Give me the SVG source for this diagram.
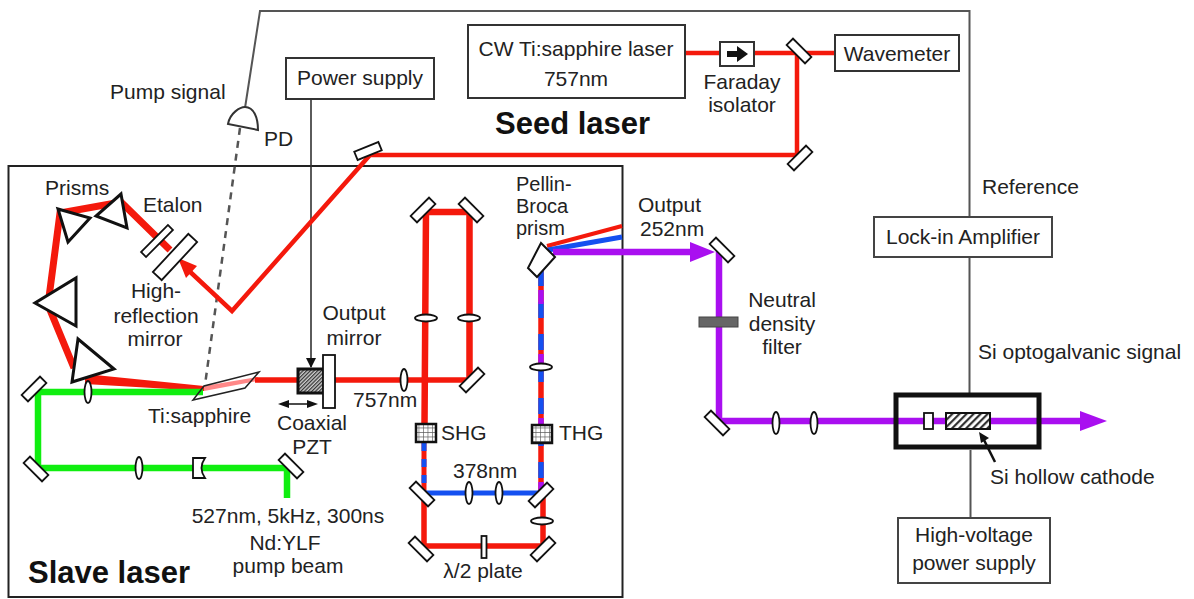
<svg xmlns="http://www.w3.org/2000/svg" width="1194" height="599" viewBox="0 0 1194 599">
<style>
text{font-family:"Liberation Sans",Arial,sans-serif;font-size:21px;fill:#222}
.m{text-anchor:middle}
.b{font-weight:bold;font-size:31px;fill:#111}
.s{font-size:20px}
.box{fill:#fff;stroke:#333;stroke-width:2}
.wire{fill:none;stroke:#333;stroke-width:1.6}
.wg{fill:none;stroke:#555;stroke-width:2}
.opt{fill:#fff;stroke:#111;stroke-width:1.800}
.tri{fill:#fff;stroke:#111;stroke-width:3;stroke-linejoin:miter}
.r{fill:none;stroke:#f4190c;stroke-linejoin:miter}
.g{fill:none;stroke:#10ee10;stroke-width:6.500}
.bl{fill:none;stroke:#1450f0;stroke-width:5}
.p{fill:none;stroke:#a90ff0;stroke-width:6.500}
</style>
<defs>
<rect id="mir" x="-13" y="-4.500" width="26" height="9" class="opt"/>
<ellipse id="lens" rx="3.500" ry="11" class="opt"/>
<ellipse id="lensh" rx="11" ry="3.500" class="opt"/>
<pattern id="hatch" width="5" height="5" patternUnits="userSpaceOnUse" patternTransform="rotate(-45)"><rect width="5" height="5" fill="#fff"/><rect width="5" height="2.200" fill="#333"/></pattern>
<pattern id="fine" width="2.600" height="2.600" patternUnits="userSpaceOnUse" patternTransform="rotate(-45)"><rect width="2.600" height="2.600" fill="#ccc"/><rect width="2.600" height="1.200" fill="#333"/></pattern>
<pattern id="grid" width="4.500" height="4.500" patternUnits="userSpaceOnUse"><rect width="4.500" height="4.500" fill="#fff"/><path d="M0 0H4.500M0 0V4.500" stroke="#555" stroke-width="1.200"/></pattern>
<marker id="ah" markerWidth="10" markerHeight="10" refX="9" refY="5" orient="auto" markerUnits="userSpaceOnUse"><path d="M0 0L10 5L0 10z" fill="#111"/></marker>
</defs>

<g id="slave-frame"><rect x="8.500" y="166" width="614" height="431" fill="#fff" stroke="#222" stroke-width="2"/></g>

<g id="connectors">
<path class="wg" d="M245 108L260 11H969.500V393"/>
<path class="wg" d="M970.500 450V518"/>
<path class="wire" d="M311 99V367" marker-end="url(#ah)"/>
<path d="M240 128L205 385" fill="none" stroke="#555" stroke-width="2.500" stroke-dasharray="7 6"/>
<path class="r" stroke-width="4.500" d="M686 53H835"/>
<path class="r" stroke-width="4.500" d="M797 53V155H370L232 311L186 268"/>
<path d="M178 258L197 266L186 278z" fill="#f4190c"/>
<path class="r" stroke-width="7" d="M170 250L121 202L60 213L48 305L74 368"/>
<path d="M85 374L204 386V391L85 384z" fill="#f4190c"/>
<path d="M204 386L258 377V381L204 391z" fill="#f88"/>
<path class="r" stroke-width="5.500" d="M255 380H470"/>
<path class="r" stroke-width="6.500" d="M469.500 380V212H426L424.500 424"/>
<path class="g" d="M203 392H38V468H287V498"/>
<path class="r" stroke-width="5" d="M424 443V494"/>
<path fill="none" stroke="#1450f0" stroke-width="5" stroke-dasharray="8 8" d="M424 443V494"/>
<path class="bl" d="M424 493H541"/>
<path class="r" stroke-width="5.500" d="M424 494V546H543V495"/>
<path class="r" stroke-width="5.500" d="M541 262V494"/>
<path fill="none" stroke="#1450f0" stroke-width="5.500" stroke-dasharray="16 16" d="M541 270V494"/>
<path fill="none" stroke="#a90ff0" stroke-width="5.500" stroke-dasharray="14 50" stroke-dashoffset="-20" d="M541 270V494"/>
<path class="r" stroke-width="4" d="M547 246L622 226"/>
<path class="bl" stroke-width="4" d="M548 250L622 237"/>
<path class="p" d="M553 252H695"/>
<path d="M690 242L715 252L690 262z" fill="#a90ff0"/>
<path class="p" d="M719 250V421H1085"/>
<path d="M1080 411L1107 421L1080 431z" fill="#a90ff0"/>
<path d="M995 462L982 436" fill="none" stroke="#111" stroke-width="2.500"/>
<path d="M979 432L989 438L981 443z" fill="#111"/>
<path d="M283 404H313" fill="none" stroke="#111" stroke-width="1.500"/>
<path d="M278 404L289 400V408zM318 404L307 400V408z" fill="#111"/>
</g>

<g id="pd"><path d="M228 124C230 113 240 107 245 107C254 107 258 118 258 130z" fill="#fff" stroke="#333" stroke-width="2"/></g>
<g id="cw-laser"><rect class="box" x="468" y="25" width="217" height="73"/><text class="m" x="576" y="56">CW Ti:sapphire laser</text><text class="m" x="576" y="86">757nm</text></g>
<g id="power-supply"><rect class="box" x="286" y="58" width="148" height="41"/><text class="m" x="360" y="85">Power supply</text></g>
<g id="faraday"><rect class="box" x="720" y="42" width="34" height="24"/><path d="M727 51H737V46L748 54L737 62V57H727z" fill="#111"/><text class="m" x="742" y="89">Faraday</text><text class="m" x="742" y="112">isolator</text></g>
<g id="wavemeter"><rect class="box" x="835" y="35" width="124" height="36"/><text class="m" x="897" y="61">Wavemeter</text></g>
<g id="lockin"><rect x="874" y="217" width="178" height="40" fill="#fff" stroke="#444" stroke-width="2"/><text class="m" x="963" y="244">Lock-in Amplifier</text></g>
<g id="hv"><rect x="898" y="518" width="152" height="65" fill="#fff" stroke="#444" stroke-width="2"/><text class="m" x="974" y="542">High-voltage</text><text class="m" x="974" y="570">power supply</text></g>

<g id="mirrors">
<use href="#mir" transform="translate(799 51) rotate(45)"/>
<use href="#mir" transform="translate(800 158) rotate(-45)"/>
<use href="#mir" transform="translate(368 151) rotate(-22)"/>
<use href="#mir" transform="translate(34 389) rotate(-45)"/>
<use href="#mir" transform="translate(36 469) rotate(45)"/>
<use href="#mir" transform="translate(291 466) rotate(45)"/>
<use href="#mir" transform="translate(423 210) rotate(-45)"/>
<use href="#mir" transform="translate(471 210) rotate(45)"/>
<use href="#mir" transform="translate(472 380) rotate(-45)"/>
<use href="#mir" transform="translate(422 494) rotate(45)"/>
<use href="#mir" transform="translate(421 549) rotate(45)"/>
<use href="#mir" transform="translate(541 495) rotate(-45)"/>
<use href="#mir" transform="translate(543 549) rotate(-45)"/>
<use href="#mir" transform="translate(722 250) rotate(45)"/>
<use href="#mir" transform="translate(717 423) rotate(45)"/>
</g>

<g id="lenses">
<use href="#lens" x="88" y="392"/>
<use href="#lens" x="139" y="468"/>
<use href="#lens" x="404" y="380"/>
<use href="#lens" x="469" y="493"/>
<use href="#lens" x="499" y="493"/>
<use href="#lens" x="776" y="423"/>
<use href="#lens" x="814" y="423"/>
<use href="#lensh" x="426" y="318"/>
<use href="#lensh" x="469" y="318"/>
<use href="#lensh" x="541" y="367"/>
<use href="#lensh" x="542" y="521"/>
</g>

<g id="prisms">
<polygon class="tri" points="58,209 90,218 68,242"/>
<polygon class="tri" points="121,194 127,228 96,216"/>
<polygon class="tri" points="76,278 76,326 35,303"/>
<polygon class="tri" points="78,339 114,369 72,382"/>
</g>
<g id="etalon"><rect class="opt" x="-19" y="-3.500" width="38" height="7" transform="translate(157 241) rotate(-45)"/></g>
<g id="hr-mirror"><rect class="opt" x="-26" y="-6" width="52" height="12" transform="translate(175 257) rotate(-47)" stroke-width="2.500"/></g>
<g id="ti-sapphire"><path d="M259 372L204 386L193 400L245 388z" fill="none" stroke="#222" stroke-width="1.500"/></g>
<g id="pzt"><rect x="298" y="369" width="26" height="24" fill="url(#fine)" stroke="#111" stroke-width="3"/></g>
<g id="output-mirror"><rect class="opt" x="323" y="355" width="12" height="53" stroke-width="2.200"/></g>
<g id="curved-mirror"><path d="M193 458H205Q198 468 205 478H193z" class="opt"/></g>
<g id="shg"><rect x="416" y="424" width="20" height="18" fill="url(#grid)" stroke="#111" stroke-width="2.500"/></g>
<g id="thg"><rect x="532" y="425" width="20" height="18" fill="url(#grid)" stroke="#111" stroke-width="2.500"/></g>
<g id="halfwave"><rect class="opt" x="481.500" y="536" width="5" height="22"/></g>
<g id="pb-prism"><polygon points="541,243 555,257 537,277 528,268" fill="#fff" stroke="#111" stroke-width="2"/></g>
<g id="nd-filter"><rect x="699" y="317" width="39" height="10" fill="#666" stroke="#444"/></g>
<g id="cell">
<rect x="896" y="395" width="143" height="52" fill="none" stroke="#111" stroke-width="5"/>
<rect class="opt" x="924" y="413" width="9" height="16" stroke-width="2.500"/>
<rect x="946" y="413" width="44" height="16" fill="url(#hatch)" stroke="#111" stroke-width="2"/>
</g>

<g id="labels">
<text class="b" x="495" y="134">Seed laser</text>
<text class="b" x="28" y="583">Slave laser</text>
<text x="110" y="99">Pump signal</text>
<text x="264" y="146">PD</text>
<text x="45" y="195">Prisms</text>
<text x="143" y="212">Etalon</text>
<text class="m" x="156" y="298">High-</text>
<text class="m" x="156" y="323">reflection</text>
<text class="m" x="155" y="346">mirror</text>
<text class="m" x="354" y="320">Output</text>
<text class="m" x="354" y="345">mirror</text>
<text class="m" x="312" y="430">Coaxial</text>
<text class="m" x="312" y="454">PZT</text>
<text x="148" y="423">Ti:sapphire</text>
<text x="353" y="407">757nm</text>
<text x="441" y="440">SHG</text>
<text x="559" y="440">THG</text>
<text x="453" y="478">378nm</text>
<text class="m" x="483" y="578">λ/2 plate</text>
<text class="m" x="288" y="523">527nm, 5kHz, 300ns</text>
<text class="m" x="285" y="550">Nd:YLF</text>
<text class="m" x="288" y="573">pump beam</text>
<text class="s" x="516" y="191">Pellin-</text>
<text class="s" x="516" y="213">Broca</text>
<text class="s" x="516" y="235">prism</text>
<text x="638" y="212">Output</text>
<text x="640" y="236">252nm</text>
<text x="982" y="194">Reference</text>
<text class="m" x="782" y="307">Neutral</text>
<text class="m" x="782" y="331">density</text>
<text class="m" x="782" y="354">filter</text>
<text x="978" y="359">Si optogalvanic signal</text>
<text x="990" y="484">Si hollow cathode</text>
</g>
</svg>
